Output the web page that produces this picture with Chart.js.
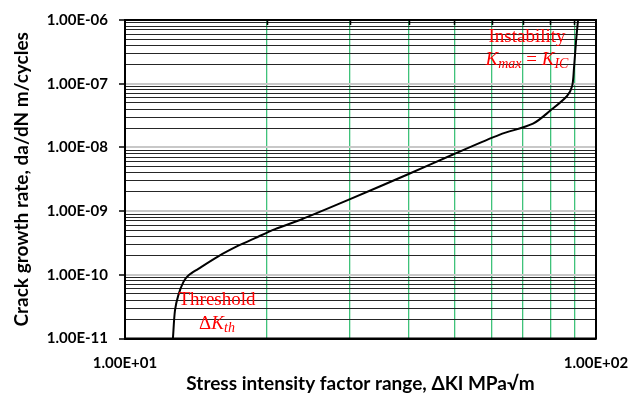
<!DOCTYPE html>
<html>
<head>
<meta charset="utf-8">
<script src="https://cdn.jsdelivr.net/npm/chart.js@4/dist/chart.umd.min.js"></script>
<style>
  html, body { margin: 0; padding: 0; background: #fff; }
  canvas { display: block; }
</style>
</head>
<body>
<canvas id="crackChart" width="631" height="396"></canvas>
<script>
// Fatigue crack growth curve (da/dN vs ΔK)
const deltaK = [12.64, 12.77, 12.98, 13.30, 13.63, 14.31, 15.78, 17.40, 18.88, 20.83, 23.53, 30.05, 39.9, 49.7, 62.5, 73.5, 79.9, 86.8, 89.0, 89.8, 90.7, 91.6];
const crackRate = [1e-11, 2.78e-11, 4.8e-11, 7.67e-11, 9.75e-11, 1.24e-10, 1.95e-10, 2.86e-10, 3.77e-10, 5.21e-10, 7.26e-10, 1.54e-9, 3.79e-9, 7.74e-9, 1.59e-8, 2.36e-8, 3.76e-8, 6.42e-8, 9.2e-8, 1.76e-7, 4.62e-7, 1e-6];

const xTickValues = [10, 100];
const xTickLabels = ["1.00E+01", "1.00E+02"];
const yTickValues = [1e-11, 1e-10, 1e-9, 1e-8, 1e-7, 1e-6];
const yTickLabels = ["1.00E-11", "1.00E-10", "1.00E-09", "1.00E-08", "1.00E-07", "1.00E-06"];

const GREEN = "#3fc27a";
const RED = "#ff0000";

function isDecade(v) {
    const e = Math.round(Math.log10(v));
    return Math.abs(v - Math.pow(10, e)) / v < 1e-6;
}

// keep only 1..9 x 10^n ticks
function wholeSignificand(scale) {
    scale.ticks = scale.ticks.filter(t => {
        const e = Math.floor(Math.log10(t.value) + 1e-9);
        const s = t.value / Math.pow(10, e);
        return Math.abs(s - Math.round(s)) < 1e-6;
    });
}

function labelFor(values, labels, v) {
    for (let i = 0; i < values.length; i++) {
        if (Math.abs(values[i] - v) / values[i] < 1e-6) return labels[i];
    }
    return "";
}

// draws a run of text pieces: [text, font, dy]
function drawRuns(ctx, runs, cx, cy) {
    let total = 0;
    runs.forEach(r => { ctx.font = r[1]; total += ctx.measureText(r[0]).width; });
    let x = cx - total / 2;
    runs.forEach(r => {
        ctx.font = r[1];
        ctx.fillText(r[0], x, cy + (r[2] || 0));
        x += ctx.measureText(r[0]).width;
    });
}

const frameAndNotes = {
    id: "frameAndNotes",
    afterDraw(chart) {
        const ctx = chart.ctx;
        const a = chart.chartArea;
        const xs = chart.scales.x;
        ctx.save();
        // small ticks hanging from the top edge
        ctx.strokeStyle = "#000";
        ctx.lineWidth = 1.5;
        xs.ticks.forEach(t => {
            if (isDecade(t.value)) return;
            const px = Math.round(xs.getPixelForValue(t.value)) + 0.5;
            ctx.beginPath();
            ctx.moveTo(px, a.top);
            ctx.lineTo(px, a.top + 5);
            ctx.stroke();
        });
        ctx.lineWidth = 2;
        ctx.strokeRect(a.left, a.top, a.right - a.left, a.bottom - a.top);

        ctx.fillStyle = RED;
        ctx.textAlign = "left";
        ctx.textBaseline = "middle";
        const serif = "19px 'Liberation Serif', 'DejaVu Serif', serif";
        const it = "italic 19px 'Liberation Serif', 'DejaVu Serif', serif";
        const sub = "italic 14px 'Liberation Serif', 'DejaVu Serif', serif";

        drawRuns(ctx, [["Threshold", serif]], a.left + 92, a.top + 280);
        drawRuns(ctx, [["Δ", serif], ["K", it], ["th", sub, 4]], a.left + 92, a.top + 304);
        drawRuns(ctx, [["Instability", serif]], a.left + 402, a.top + 17);
        drawRuns(ctx, [["K", it], ["max", sub, 4], [" = ", serif], ["K", it], ["IC", sub, 4]], a.left + 402, a.top + 40);
        ctx.restore();
    }
};

new Chart(document.getElementById("crackChart"), {
    type: "line",
    data: {
        datasets: [{
            data: deltaK.map((k, i) => ({ x: k, y: crackRate[i] })),
            borderColor: "#000",
            borderWidth: 2,
            pointRadius: 0,
            fill: false,
            tension: 0.3
        }]
    },
    options: {
        responsive: false,
        animation: false,
        devicePixelRatio: 1,
        layout: { padding: { top: 17.5, right: 35, left: 0, bottom: 0 } },
        plugins: {
            legend: { display: false },
            tooltip: { enabled: false }
        },
        scales: {
            x: {
                type: "logarithmic",
                min: 10,
                max: 100,
                afterBuildTicks: wholeSignificand,
                afterFit: s => { s.height = 57.5; s.paddingLeft = 0; s.paddingRight = 0; },
                grid: {
                    color: c => (c.tick && !isDecade(c.tick.value)) ? GREEN : "rgba(0,0,0,0)",
                    lineWidth: 1.3,
                    drawTicks: false
                },
                border: { display: true, color: "#000", width: 2 },
                ticks: {
                    autoSkip: false,
                    maxRotation: 0,
                    padding: 16,
                    color: "#000",
                    font: { family: "Lato", weight: "bold", size: 15 },
                    callback: v => labelFor(xTickValues, xTickLabels, v)
                },
                title: {
                    display: true,
                    text: "Stress intensity factor range, ΔKI MPa√m",
                    color: "#000",
                    font: { family: "Lato", weight: "bold", size: 19 },
                    padding: { top: 0, bottom: 1 }
                }
            },
            y: {
                type: "logarithmic",
                min: 1e-11,
                max: 1e-6,
                afterBuildTicks: wholeSignificand,
                afterFit: s => { s.width = 125; },
                grid: {
                    color: c => (c.tick && isDecade(c.tick.value)) ? "#c8c8c8" : "#262626",
                    lineWidth: c => (c.tick && isDecade(c.tick.value)) ? 2 : 1,
                    tickColor: c => (c.tick && isDecade(c.tick.value)) ? "#000" : "rgba(0,0,0,0)",
                    tickLength: 6,
                    tickWidth: 1.5
                },
                border: { display: true, color: "#000", width: 2 },
                ticks: {
                    autoSkip: false,
                    padding: 11,
                    color: "#000",
                    font: { family: "Lato", weight: "bold", size: 15 },
                    callback: v => labelFor(yTickValues, yTickLabels, v)
                },
                title: {
                    display: true,
                    text: "Crack growth rate, da/dN m/cycles",
                    color: "#000",
                    font: { family: "Lato", weight: "bold", size: 19 },
                    padding: { top: 10, bottom: 0 }
                }
            }
        }
    },
    plugins: [frameAndNotes]
});
</script>
</body>
</html>
